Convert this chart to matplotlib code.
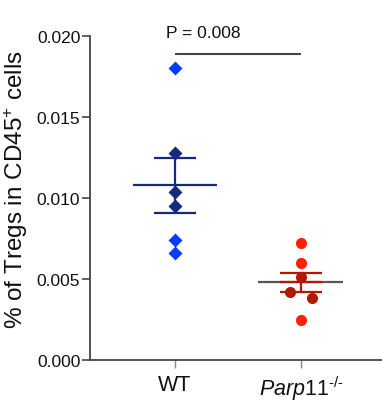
import matplotlib
matplotlib.use("Agg")
import matplotlib.pyplot as plt

plt.rcParams["font.family"] = ["Liberation Sans", "DejaVu Sans"]
plt.rcParams["mathtext.fontset"] = "custom"
plt.rcParams["mathtext.rm"] = "Liberation Sans"
plt.rcParams["mathtext.it"] = "Liberation Sans:italic"

# values
groups = ["WT", "$\\mathit{Parp11}^{\\mathit{\u2010/\u2010}}$"]
wt_vals = [0.0180, 0.0128, 0.0104, 0.0095, 0.0074, 0.0066]
wt_dark = [False, True, True, True, False, False]
parp_vals = [0.0072, 0.0060, 0.0051, 0.0042, 0.0038, 0.0025]
parp_dark = [False, False, True, True, True, False]
parp_jitter = [0, 0, 0, -0.09, 0.09, 0]
group_mean = [0.0108, 0.0048]
group_sem = [0.0017, 0.0006]
p_text = "P = 0.008"
p_y = 0.0189

BLUE, NAVY = "#0a3cff", "#162a7c"
RED, DARKRED = "#ff2200", "#b01a00"

fig = plt.figure(figsize=(3.82, 4.02), dpi=100)
ax = fig.add_axes([90 / 382, 41 / 402, 292 / 382, 324 / 402])

# WT
for v, dark in zip(wt_vals, wt_dark):
    ax.plot(1, v, marker="D", ms=7, color=NAVY if dark else BLUE, mec="none", zorder=3)
ax.hlines(group_mean[0], 1 - 0.33, 1 + 0.33, color=NAVY, lw=1.6, zorder=4)
for s in (-1, 1):
    ax.hlines(group_mean[0] + s * group_sem[0], 1 - 0.17, 1 + 0.17, color=NAVY, lw=1.6, zorder=4)
ax.vlines(1, group_mean[0] - group_sem[0], group_mean[0] + group_sem[0], color=NAVY, lw=1.6, zorder=4)

# Parp11-/-
for v, dark, dx in zip(parp_vals, parp_dark, parp_jitter):
    ax.plot(2 + dx, v, marker="o", ms=8, color=DARKRED if dark else RED, mec="none", zorder=3)
ax.hlines(group_mean[1], 2 - 0.34, 2 + 0.33, color="#555555", lw=1.6, zorder=2)
ax.hlines(group_mean[1], 2 - 0.17, 2 + 0.17, color=DARKRED, lw=1.6, zorder=4)
for s in (-1, 1):
    ax.hlines(group_mean[1] + s * group_sem[1], 2 - 0.17, 2 + 0.17, color=DARKRED, lw=1.6, zorder=4)
ax.vlines(2, group_mean[1] - group_sem[1], group_mean[1] + group_sem[1], color=DARKRED, lw=1.6, zorder=4)

# significance bar
ax.hlines(p_y, 1, 2, color="#444444", lw=1.5, clip_on=False)
ax.text(0.93, 0.0202, p_text, fontsize=12.5, ha="left", va="center", color="#111111", clip_on=False)

ax.set_xlim(0.325, 2.643)
ax.set_ylim(0, 0.020)
ax.set_yticks([0.000, 0.005, 0.010, 0.015, 0.020])
ax.set_yticklabels(["0.000", "0.005", "0.010", "0.015", "0.020"])
ax.set_xticks([1, 2])
ax.set_xticklabels(groups)
ax.tick_params(axis="y", length=6, width=1.2, pad=1, labelsize=12.5, color="#444444", labelcolor="#111111")
ax.tick_params(axis="x", length=6, width=1.0, pad=4, labelsize=15.5, color="#888888", labelcolor="#111111")

for side in ("top", "right"):
    ax.spines[side].set_visible(False)
for side in ("left", "bottom"):
    ax.spines[side].set_color("#444444")
    ax.spines[side].set_linewidth(1.3)

ax.set_ylabel(r"% of Tregs in CD45$^{+}$ cells", fontsize=17.5, color="#111111")
ax.yaxis.set_label_coords(-0.205, 0.528)

fig.savefig("out.png", dpi=100)
